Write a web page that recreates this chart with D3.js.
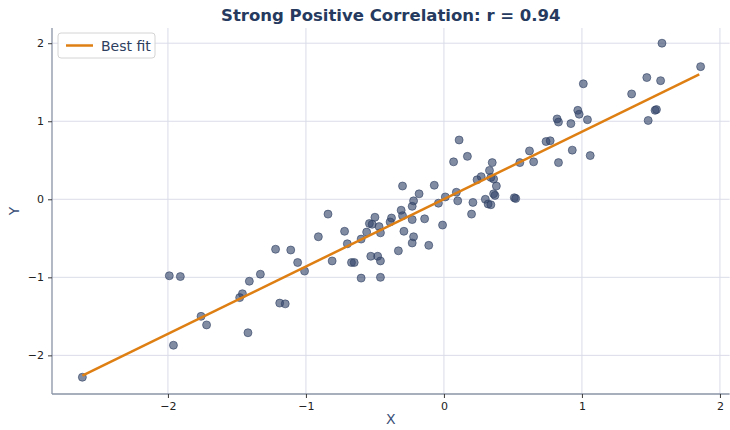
<!DOCTYPE html>
<html>
<head>
<meta charset="utf-8">
<script src="https://cdn.jsdelivr.net/npm/d3@7"></script>
<style>
  html, body { margin: 0; padding: 0; background: #ffffff; }
  svg { display: block; font-family: "DejaVu Sans", sans-serif; }
</style>
</head>
<body>
<svg id="chart" width="730" height="430"></svg>
<script>
const titleText = "Strong Positive Correlation: r = 0.94";
const xLabel = "X";
const yLabel = "Y";
const legendLabel = "Best fit";
const xTicks = [-2, -1, 0, 1, 2];
const yTicks = [-2, -1, 0, 1, 2];
const xDomain = [-2.84, 2.07];
const yDomain = [-2.495, 2.195];

const xs = [-2.62,-1.99,-1.91,-1.96,-1.76,-1.72,-1.42,-1.48,-1.46,-1.41,
  -1.33,-1.22,-1.19,-1.15,-1.11,-1.06,-1.01,-0.91,-0.84,-0.81,
  -0.72,-0.70,-0.67,-0.65,-0.60,-0.60,-0.56,-0.54,-0.52,-0.50,
  -0.53,-0.48,-0.46,-0.46,-0.47,-0.46,-0.38,-0.39,-0.33,-0.31,
  -0.30,-0.29,-0.30,-0.23,-0.22,-0.23,-0.23,-0.22,-0.18,-0.14,
  -0.11,-0.07,-0.04,-0.01,0.01,0.07,0.11,0.09,0.10,0.17,
  0.20,0.21,0.24,0.27,0.30,0.32,0.34,0.33,0.35,0.34,
  0.36,0.37,0.38,0.36,0.51,0.52,0.55,0.62,0.65,0.74,
  0.77,0.83,0.93,1.06,0.82,0.83,0.92,1.04,0.97,0.98,
  1.01,1.36,1.47,1.57,1.58,1.48,1.53,1.54,1.86];
const ys = [-2.28,-0.98,-0.99,-1.87,-1.50,-1.61,-1.71,-1.26,-1.21,-1.05,
  -0.96,-0.64,-1.33,-1.34,-0.65,-0.81,-0.92,-0.48,-0.19,-0.79,
  -0.41,-0.57,-0.81,-0.81,-0.51,-1.01,-0.42,-0.31,-0.32,-0.23,
  -0.73,-0.73,-0.79,-1.00,-0.35,-0.43,-0.24,-0.29,-0.66,-0.14,
  0.17,-0.41,-0.21,-0.56,-0.48,-0.26,-0.09,-0.02,0.07,-0.25,
  -0.59,0.18,-0.05,-0.33,0.03,0.48,0.76,0.09,-0.02,0.55,
  -0.19,-0.04,0.25,0.29,0.00,-0.06,-0.07,0.37,0.47,0.28,
  0.07,0.05,0.17,0.26,0.02,0.01,0.47,0.62,0.48,0.74,
  0.75,0.47,0.63,0.56,1.03,0.99,0.97,1.02,1.14,1.09,
  1.48,1.35,1.56,1.52,2.00,1.01,1.14,1.15,1.70];
const fitX = [-2.62, 1.85];
const fitY = [-2.26, 1.60];

const svg = d3.select("#chart");
const margin = { left: 52, right: 0.4, top: 28, bottom: 36 };
const W = 730, H = 430;
const x = d3.scaleLinear().domain(xDomain).range([margin.left, W - margin.right]);
const y = d3.scaleLinear().domain(yDomain).range([H - margin.bottom, margin.top]);

const tickFmt = d => (d < 0 ? "\u2212" + Math.abs(d) : String(d));

// grid
const grid = svg.append("g");
grid.selectAll("line.vx").data(xTicks).join("line")
  .attr("x1", d => x(d)).attr("x2", d => x(d))
  .attr("y1", margin.top).attr("y2", H - margin.bottom)
  .attr("stroke", "#dadce8").attr("stroke-width", 1);
grid.selectAll("line.hy").data(yTicks).join("line")
  .attr("x1", margin.left).attr("x2", W - margin.right)
  .attr("y1", d => y(d)).attr("y2", d => y(d))
  .attr("stroke", "#dadce8").attr("stroke-width", 1);

// axes
const spineColor = "#8a93a6";
const xAxis = svg.append("g").attr("transform", `translate(0,${H - margin.bottom})`)
  .call(d3.axisBottom(x).tickValues(xTicks).tickFormat(tickFmt).tickSize(4).tickPadding(4));
const yAxis = svg.append("g").attr("transform", `translate(${margin.left},0)`)
  .call(d3.axisLeft(y).tickValues(yTicks).tickFormat(tickFmt).tickSize(4).tickPadding(4));
[xAxis, yAxis].forEach(a => {
  a.select(".domain").attr("stroke", spineColor).attr("stroke-width", 1.3);
  a.selectAll(".tick line").attr("stroke", "#3a3a3a").attr("stroke-width", 1);
  a.selectAll(".tick text").attr("fill", "#222").attr("font-size", 11)
    .attr("font-family", "DejaVu Sans, sans-serif");
});
xAxis.select(".domain").attr("d", `M${margin.left},0H${W - margin.right}`);
yAxis.select(".domain").attr("d", `M0,${margin.top}V${H - margin.bottom}`);

// points
const pts = xs.map((v, i) => ({ x: v, y: ys[i] }));
svg.append("g").selectAll("circle").data(pts).join("circle")
  .attr("cx", d => x(d.x)).attr("cy", d => y(d.y)).attr("r", 4)
  .attr("fill", "#34466a").attr("fill-opacity", 0.62)
  .attr("stroke", "#2f4062").attr("stroke-opacity", 0.75).attr("stroke-width", 0.8);

// fit line
const fitPts = fitX.map((v, i) => [v, fitY[i]]);
svg.append("path").datum(fitPts)
  .attr("d", d3.line().x(d => x(d[0])).y(d => y(d[1])))
  .attr("fill", "none").attr("stroke", "#de7f13").attr("stroke-width", 2.5);

// title
svg.append("text").attr("x", (margin.left + W - margin.right) / 2).attr("y", 21)
  .attr("text-anchor", "middle").attr("font-size", 16.5).attr("font-weight", "bold")
  .attr("fill", "#253a5e").text(titleText);

// axis labels
svg.append("text").attr("x", (margin.left + W - margin.right) / 2).attr("y", 424)
  .attr("text-anchor", "middle").attr("font-size", 14).attr("fill", "#3b5078").text(xLabel);
svg.append("text").attr("transform", `translate(19,${(margin.top + H - margin.bottom) / 2}) rotate(-90)`)
  .attr("text-anchor", "middle").attr("font-size", 14).attr("fill", "#3b5078").text(yLabel);

// legend
const lg = svg.append("g").attr("transform", "translate(58,33)");
lg.append("rect").attr("width", 97).attr("height", 25).attr("rx", 3)
  .attr("fill", "#ffffff").attr("fill-opacity", 0.85).attr("stroke", "#d4d4d4");
lg.append("line").attr("x1", 8).attr("x2", 35).attr("y1", 12.5).attr("y2", 12.5)
  .attr("stroke", "#de7f13").attr("stroke-width", 2.5);
lg.append("text").attr("x", 43).attr("y", 17.5).attr("font-size", 14)
  .attr("fill", "#2d3e5e").text(legendLabel);
</script>
</body>
</html>
